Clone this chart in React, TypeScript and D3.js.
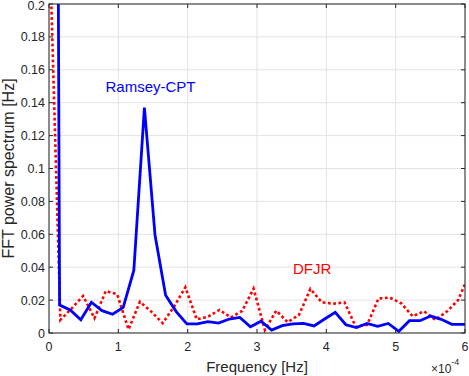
import React from 'react';
import * as d3 from 'd3';

// FFT bin spacing of each record (x axis is in units of 1e-4 Hz)
const ramseyStep = 0.1529;
const dfjrStep = 0.1639;

// Ramsey-CPT power spectrum, one value per bin (bin 0 = DC, off scale)
const ramseyValues = [
  1.6, 0.017, 0.014, 0.008, 0.0187, 0.0136, 0.0114, 0.0156, 0.038, 0.137,
  0.0596, 0.023, 0.013, 0.0055, 0.0055, 0.0069, 0.006, 0.0085, 0.0095, 0.0038,
  0.0072, 0.0018, 0.0045, 0.0055, 0.0059, 0.0043, 0.0085, 0.0126, 0.005, 0.0033,
  0.0058, 0.004, 0.0058, 0.001, 0.0075, 0.0075, 0.0103, 0.0083, 0.0053, 0.0053,
  0.0053,
];

// DFJR power spectrum
const dfjrValues = [
  0.25, 0.008, 0.015, 0.0225, 0.009, 0.0255, 0.0235, 0.0022, 0.019, 0.013,
  0.006, 0.016, 0.0278, 0.0083, 0.0099, 0.014, 0.0095, 0.0134, 0.027, 0.0018,
  0.0136, 0.0066, 0.011, 0.0268, 0.0187, 0.0178, 0.0186, 0.0038, 0.005, 0.021,
  0.0215, 0.018, 0.0102, 0.0132, 0.008, 0.013, 0.02, 0.036,
];

const xTicks = [0, 1, 2, 3, 4, 5, 6];
const yTicks = [0, 0.02, 0.04, 0.06, 0.08, 0.1, 0.12, 0.14, 0.16, 0.18, 0.2];

const W = 469;
const H = 376;
const margin = { top: 4, right: 4, bottom: 43, left: 49 };
const font = '"Liberation Sans", Arial, Helvetica, sans-serif';
const axisColor = '#262626';

export default function App() {
  const x = d3.scaleLinear().domain([0, 6]).range([margin.left, W - margin.right]);
  const y = d3.scaleLinear().domain([0, 0.2]).range([H - margin.bottom, margin.top]);

  const line = d3
    .line<[number, number]>()
    .x((d) => x(d[0]))
    .y((d) => y(d[1]));

  const ramseyPath = line(ramseyValues.map((v, i) => [i * ramseyStep, v]));
  const dfjrPath = line(dfjrValues.map((v, i) => [i * dfjrStep, v]));

  const x0 = x(0), x1 = x(6), y0 = y(0), y1 = y(0.2);
  const tick = 4;

  return (
    <div style={{ position: 'fixed', left: 0, top: 0 }}>
      <svg width={W} height={H} style={{ display: 'block', fontFamily: font }}>
        <defs>
          <clipPath id="plot">
            <rect x={x0} y={y1} width={x1 - x0} height={y0 - y1} />
          </clipPath>
        </defs>
        <rect x={0} y={0} width={W} height={H} fill="#fff" />

        {/* grid */}
        {xTicks.map((t) => (
          <line key={'gx' + t} x1={x(t)} x2={x(t)} y1={y1} y2={y0} stroke="#e3e3e3" strokeWidth={1} />
        ))}
        {yTicks.map((t) => (
          <line key={'gy' + t} x1={x0} x2={x1} y1={y(t)} y2={y(t)} stroke="#e3e3e3" strokeWidth={1} />
        ))}

        {/* data */}
        <g clipPath="url(#plot)">
          <path d={dfjrPath || ''} fill="none" stroke="#ff0000" strokeWidth={2.6} strokeDasharray="2.8,2.5" />
          <path d={ramseyPath || ''} fill="none" stroke="#0000ff" strokeWidth={2.8} strokeLinejoin="miter" />
        </g>

        {/* box + ticks */}
        <rect x={x0} y={y1} width={x1 - x0} height={y0 - y1} fill="none" stroke={axisColor} strokeWidth={1} />
        {xTicks.map((t) => (
          <g key={'tx' + t}>
            <line x1={x(t)} x2={x(t)} y1={y0} y2={y0 - tick} stroke={axisColor} />
            <line x1={x(t)} x2={x(t)} y1={y1} y2={y1 + tick} stroke={axisColor} />
            <text x={x(t)} y={y0 + 18} textAnchor="middle" fontSize={12.5} fill={axisColor}>
              {t}
            </text>
          </g>
        ))}
        {yTicks.map((t) => (
          <g key={'ty' + t}>
            <line x1={x0} x2={x0 + tick} y1={y(t)} y2={y(t)} stroke={axisColor} />
            <line x1={x1} x2={x1 - tick} y1={y(t)} y2={y(t)} stroke={axisColor} />
            <text x={x0 - 4} y={Math.max(y(t) + 4.5, 10)} textAnchor="end" fontSize={12.5} fill={axisColor}>
              {d3.format('~g')(t)}
            </text>
          </g>
        ))}

        {/* labels */}
        <text x={(x0 + x1) / 2} y={372} textAnchor="middle" fontSize={15} fill={axisColor}>
          Frequency [Hz]
        </text>
        <text
          transform={`translate(14,${(y0 + y1) / 2}) rotate(-90)`}
          textAnchor="middle"
          fontSize={16}
          fill={axisColor}
        >
          FFT power spectrum [Hz]
        </text>
        <text x={431} y={372.5} fontSize={12} fill={axisColor}>
          ×10
          <tspan fontSize={9} dy={-8}>-4</tspan>
        </text>

        <text x={105.5} y={92} fontSize={15} fill="#0000ff">
          Ramsey-CPT
        </text>
        <text x={293} y={274} fontSize={15} fill="#ff0000">
          DFJR
        </text>
      </svg>
    </div>
  );
}
